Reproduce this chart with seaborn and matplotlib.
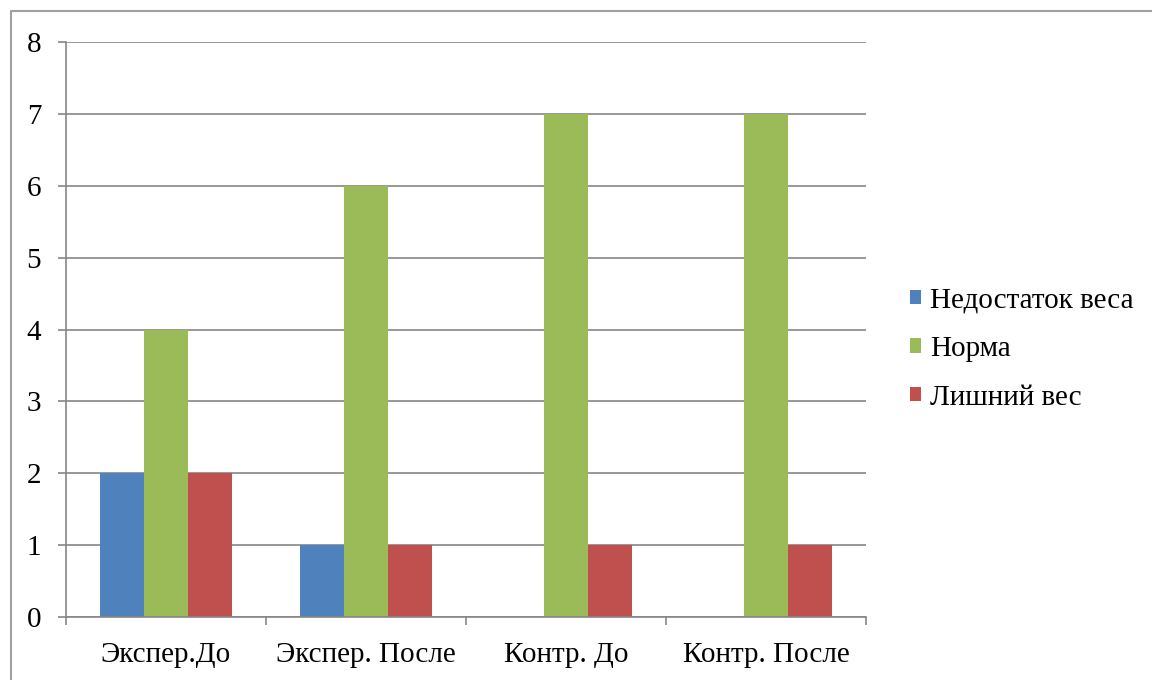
import matplotlib
matplotlib.use("Agg")
import matplotlib.pyplot as plt
import seaborn as sns
import pandas as pd
from matplotlib.lines import Line2D
from matplotlib.patches import Patch

categories = ["Экспер.До", "Экспер. После", "Контр. До", "Контр. После"]
series_names = ["Недостаток веса", "Норма", "Лишний вес"]
underweight = [2, 1, 0, 0]
normal = [4, 6, 7, 7]
overweight = [2, 1, 1, 1]
colors = ["#4F81BD", "#9BBB59", "#C0504D"]

rows = []
for name, vals in zip(series_names, [underweight, normal, overweight]):
    for c, v in zip(categories, vals):
        rows.append({"cat": c, "series": name, "value": v})
df = pd.DataFrame(rows)

sns.set_theme(style="white")
plt.rcParams["font.family"] = ["Liberation Serif", "DejaVu Serif"]

fig = plt.figure(figsize=(11.52, 6.8), dpi=100)
ax = fig.add_axes([66/1152, 63/680, 800/1152, 575/680])

sns.barplot(data=df, x="cat", y="value", hue="series", order=categories,
            hue_order=series_names, palette=colors, width=0.66, gap=0,
            saturation=1, ax=ax, legend=False, errorbar=None, linewidth=0)

grid_c = "#868686"
ax.set_ylim(0, 8)
ax.set_xlim(-0.5, 3.5)
ax.set_yticks(range(0, 9))
ax.yaxis.grid(True, color=grid_c, linewidth=1.2)
ax.set_axisbelow(True)
ax.set_xlabel("")
ax.set_ylabel("")
for s in ["top", "right"]:
    ax.spines[s].set_visible(False)
for s in ["left", "bottom"]:
    ax.spines[s].set_color(grid_c)
    ax.spines[s].set_linewidth(1.2)

ax.tick_params(axis="y", which="major", length=5.8, width=1.2, color=grid_c,
               labelsize=21, pad=12, labelcolor="black", left=True)
ax.set_xticks(range(4))
ax.set_xticklabels(categories)
ax.tick_params(axis="x", which="major", length=0, labelsize=21, pad=18,
               labelcolor="black")
ax.set_xticks([-0.5, 0.5, 1.5, 2.5, 3.5], minor=True)
ax.tick_params(axis="x", which="minor", length=5.8, width=1.2, color=grid_c,
               bottom=True)

handles = [Patch(facecolor=c, edgecolor="none") for c in colors]
fig.legend(handles, series_names, loc="center left",
           bbox_to_anchor=(910/1152, 1 - 349/680), frameon=False, fontsize=21,
           handlelength=0.38, handleheight=0.38, handletextpad=0.3,
           labelspacing=0.78, borderpad=0, borderaxespad=0, labelcolor="black")

fig.add_artist(Line2D([11/1152, 11/1152], [0, 1 - 11/680], color="#A0A0A0",
                      linewidth=1.5, transform=fig.transFigure))
fig.add_artist(Line2D([11/1152, 1], [1 - 11/680, 1 - 11/680], color="#A0A0A0",
                      linewidth=1.5, transform=fig.transFigure))

fig.savefig("out.png", dpi=100, facecolor="white")
